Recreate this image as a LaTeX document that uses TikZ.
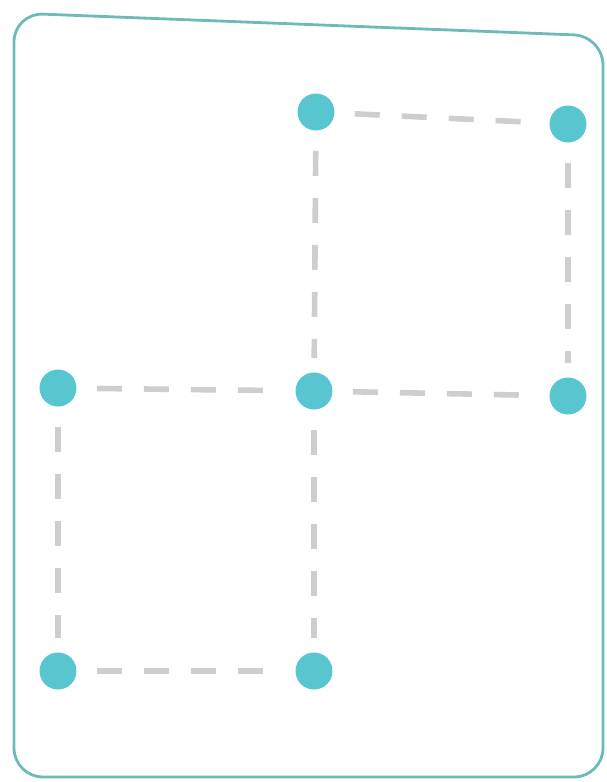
\documentclass[tikz,border=0pt]{standalone}
\usepackage{tikz}
\usetikzlibrary{positioning}

\definecolor{dotteal}{RGB}{88,198,208}
\definecolor{frameteal}{RGB}{110,186,182}
\definecolor{dashgray}{RGB}{206,206,206}

\begin{document}
\begin{tikzpicture}[
    x=0.02cm, y=-0.02cm,
    dot/.style={circle, fill=dotteal, inner sep=0pt, minimum size=0.74cm},
    link/.style={draw=dashgray, line width=3.2pt, dash pattern=on 0.5cm off 0.44cm, shorten <=0.4cm, shorten >=0.28cm},
    frame/.style={draw=frameteal, line width=1.6pt, rounded corners=0.58cm}
]
\useasboundingbox (0,0) rectangle (606,782);
\draw[frame] (14,13) -- (603,36) -- (603,777) -- (14,777) -- cycle;

\node[dot] (tm) at (316,112) {};
\node[dot] (tr) at (568,124) {};
\node[dot] (ml) at (58,388) {};
\node[dot] (mm) at (314,391) {};
\node[dot] (mr) at (568,396) {};
\node[dot] (bl) at (58,671) {};
\node[dot] (bm) at (314,671) {};

\draw[link] (tm) -- (tr);
\draw[link] (tm) -- (mm);
\draw[link] (tr) -- (mr);
\draw[link] (ml) -- (mm);
\draw[link] (mm) -- (mr);
\draw[link] (ml) -- (bl);
\draw[link] (mm) -- (bm);
\draw[link] (bl) -- (bm);
\end{tikzpicture}
\end{document}
